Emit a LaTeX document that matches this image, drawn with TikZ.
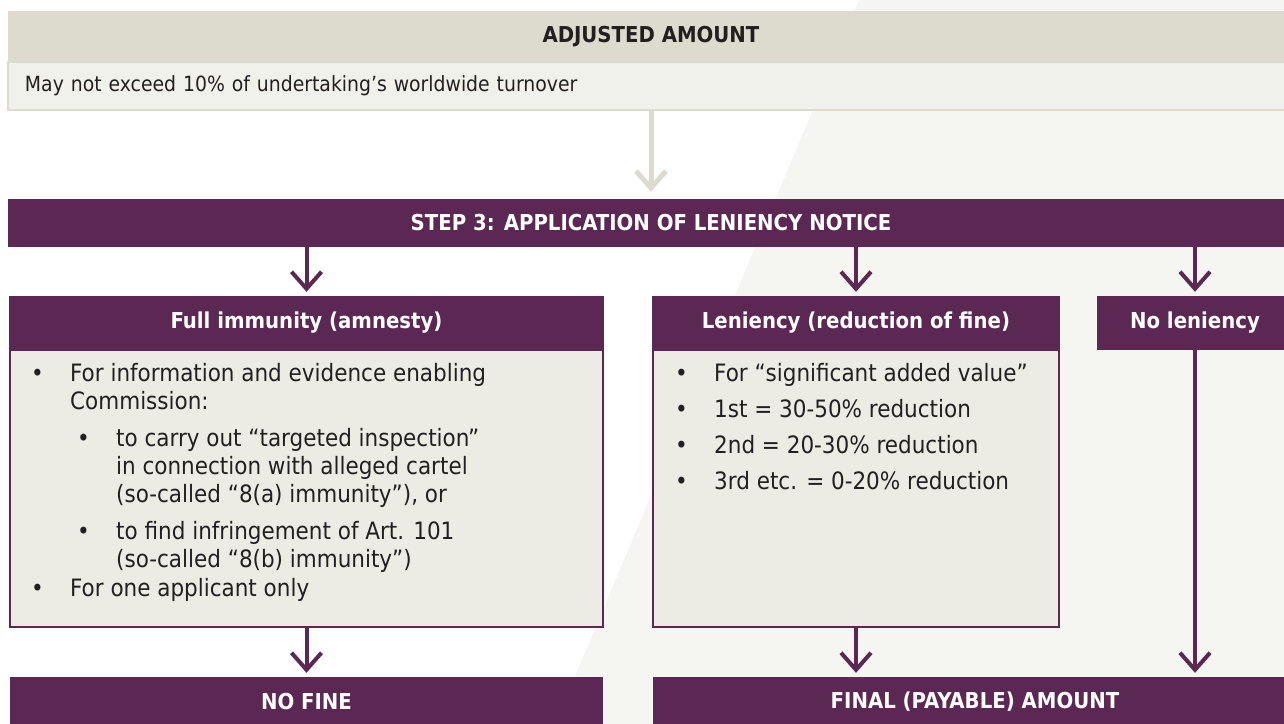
\documentclass[tikz,border=0pt]{standalone}
\usepackage{fontspec}
\setmainfont{DejaVu Sans Condensed}
\usetikzlibrary{positioning,arrows.meta}

\definecolor{plum}{HTML}{5B2853}
\definecolor{sand}{HTML}{DDDBCE}
\definecolor{paper}{HTML}{F1F1EC}
\definecolor{boxfill}{HTML}{ECECE5}
\definecolor{backdrop}{HTML}{F5F5F1}
\definecolor{ink}{HTML}{231F20}

% bullets and hanging indents for the lists
\newcommand\bl{\makebox[39bp][l]{\textbullet}}
\newcommand\subbl{\hspace*{46bp}\bl}
\newcommand\ind{\hspace*{39bp}}
\newcommand\subind{\hspace*{85bp}}

\begin{document}
\begin{tikzpicture}[x=1bp, y=-1bp,
  band/.style={fill=plum, text=white, inner sep=0pt, minimum height=50bp,
               font=\fontsize{22}{26}\selectfont\bfseries},
  hdr/.style={fill=plum, text=white, inner sep=0pt, minimum height=54bp,
              font=\fontsize{22}{26}\selectfont\bfseries},
  bodybox/.style={draw=plum, line width=2bp, fill=boxfill, inner sep=0pt,
                  minimum height=277bp},
  listtxt/.style={anchor=north west, align=left, inner sep=0pt, text=ink,
                  font=\fontsize{24}{28.5}\selectfont},
  arr/.style={-{Straight Barb[length=17bp, width=30bp]}, line width=4bp, draw=plum}]
\useasboundingbox (0,0) rectangle (1284,724);
\clip (0,0) rectangle (1284,724);
\fill[backdrop] (859,0) -- (1284,0) -- (1284,724) -- (555,724) -- cycle;

% adjusted amount
\node[fill=sand, text=ink, inner sep=0pt, minimum width=1286bp, minimum height=51bp,
      font=\fontsize{22}{26}\selectfont\bfseries] (adjhead) at (651,36.5) {ADJUSTED AMOUNT};
\node[fill=paper, draw=sand, line width=2bp, text=ink, inner ysep=0pt, inner xsep=17bp,
      text width=1252bp, minimum height=48bp, align=left,
      font=\fontsize{21}{25}\selectfont] (adjbody) at (651,86) {May not exceed 10\% of undertaking’s worldwide turnover};

% step 3
\node[band, minimum width=1286bp, minimum height=48bp] (step) at (651,223) {STEP 3: APPLICATION OF LENIENCY NOTICE};

% three outcomes
\node[bodybox, minimum width=593bp] (fullbody) at (306.5,488.5) {};
\node[hdr, minimum width=595bp] (fullhead) at (306.5,323) {Full immunity (amnesty)};
\node[bodybox, minimum width=406bp] (lenbody) at (856,488.5) {};
\node[hdr, minimum width=408bp] (lenhead) at (856,323) {Leniency (reduction of fine)};
\node[hdr, minimum width=196bp] (nolhead) at (1195,323) {No leniency};

\node[listtxt] (fulllist) at ([xshift=22bp, yshift=-14bp]fullbody.north west) {%
\bl For information and evidence enabling\\
\ind Commission:\\[8bp]
\subbl to carry out “targeted inspection”\\
\subind in connection with alleged cartel\\
\subind (so-called “8(a) immunity”), or\\[8bp]
\subbl to find infringement of Art. 101\\
\subind (so-called “8(b) immunity”)\\
\bl For one applicant only};
\node[listtxt] (lenlist) at ([xshift=23bp, yshift=-14bp]lenbody.north west) {%
\bl For “significant added value”\\[7.5bp]
\bl 1st = 30-50\% reduction\\[7.5bp]
\bl 2nd = 20-30\% reduction\\[7.5bp]
\bl 3rd etc. = 0-20\% reduction};

% results
\node[band, minimum width=593bp] (nofine) at (306.5,702) {NO FINE};
\node[band, minimum width=644bp] (final) at (975,702) {FINAL (PAYABLE) AMOUNT};

% connectors
\draw[arr, draw=sand, line width=5bp, shorten >=7bp] (adjbody) -- (step);
\draw[arr, shorten >=4bp] (step.south -| fullhead.north) -- (fullhead);
\draw[arr, shorten >=4bp] (step.south -| lenhead.north) -- (lenhead);
\draw[arr, shorten >=4bp] (step.south -| nolhead.north) -- (nolhead);
\draw[arr, shorten >=4bp] (fullbody) -- (nofine);
\draw[arr, shorten >=4bp] (lenbody.south) -- (lenbody.south |- final.north);
\draw[arr, shorten >=4bp] (nolhead.south) -- (nolhead.south |- final.north);
\end{tikzpicture}
\end{document}
